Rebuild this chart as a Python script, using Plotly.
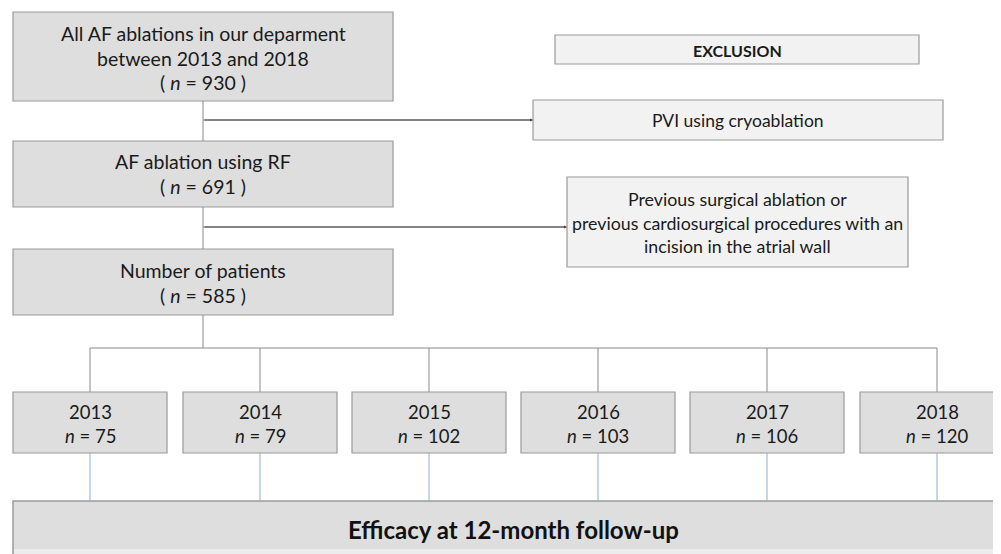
import plotly.graph_objects as go

# ---- data ----
total_label = ["All AF ablations in our deparment", "between 2013 and 2018"]
total_n = 930
rf_label = "AF ablation using RF"
rf_n = 691
patients_label = "Number of patients"
patients_n = 585
exclusion_title = "EXCLUSION"
exclusion_1 = ["PVI using cryoablation"]
exclusion_2 = ["Previous surgical ablation or",
               "previous cardiosurgical procedures with an",
               "incision in the atrial wall"]
years = ["2013", "2014", "2015", "2016", "2017", "2018"]
year_n = [75, 79, 102, 103, 106, 120]
outcome_label = "Efficacy at 12-month follow-up"

# ---- geometry (page pixels, y down) ----
W, H = 1001, 554
OFF = 8  # page body margin
FONT = "Lato"
DARK_FILL = "#dedede"
LIGHT_FILL = "#f2f2f2"
BORDER = "#9a9a9a"
LINE = "#8a8a8a"
BLUE = "#8eaadb"

main_x0, main_x1 = 13, 393
box1_y = (12, 101)
box2_y = (141, 207)
box3_y = (249, 315)
spine_x = 203
excl_title_box = (555, 919, 35, 64)
excl1_box = (533, 943, 100, 140)
excl2_box = (567, 908, 177, 267)
year_x0 = [13, 183, 352, 521, 690, 860]
year_w = [154, 154, 154, 154, 154, 154]
year_y = (392, 453)
branch_y = 348
out_y = (501, 549)

fig = go.Figure()
fig.add_trace(go.Scatter(x=[OFF, W], y=[OFF, H], mode="markers", marker=dict(opacity=0),
                         hoverinfo="skip", showlegend=False))

shapes = []
annotations = []

def rect(x0, x1, y0, y1, fill, lw=1.2):
    shapes.append(dict(type="rect", x0=x0, x1=x1, y0=y0, y1=y1, xref="x", yref="y",
                       fillcolor=fill, line=dict(color=BORDER, width=lw), layer="below"))

def line(x0, y0, x1, y1, color=LINE, w=1):
    shapes.append(dict(type="line", x0=x0, y0=y0, x1=x1, y1=y1, xref="x", yref="y",
                       line=dict(color=color, width=w)))

def arrow(x0, y0, x1, y1, color="#404040"):
    annotations.append(dict(x=x1, y=y1, ax=x0, ay=y0, xref="x", yref="y", axref="x", ayref="y",
                            text="", showarrow=True, arrowhead=2, arrowsize=0.6, arrowwidth=1,
                            arrowcolor=color, standoff=0))

def text(x, y, t, size=17, bold=False, color="#1a1a1a"):
    if bold:
        t = "<b>" + t + "</b>"
    annotations.append(dict(x=x, y=y, xref="x", yref="y", text=t, showarrow=False,
                            font=dict(family=FONT, size=size, color=color),
                            xanchor="center", yanchor="middle", align="center"))

# main boxes
rect(main_x0, main_x1, *box1_y, DARK_FILL)
rect(main_x0, main_x1, *box2_y, DARK_FILL)
rect(main_x0, main_x1, *box3_y, DARK_FILL)
cx = (main_x0 + main_x1) / 2
text(cx, 33, total_label[0], 19.5)
text(cx, 58, total_label[1], 19.5)
text(cx, 82, "( <i>n</i> = %d )" % total_n, 19.5)
text(cx, 161, rf_label, 19.5)
text(cx, 186, "( <i>n</i> = %d )" % rf_n, 19.5)
text(cx, 270, patients_label, 19.5)
text(cx, 295, "( <i>n</i> = %d )" % patients_n, 19.5)

# exclusion boxes
ex0, ex1, ey0, ey1 = excl_title_box
rect(ex0, ex1, ey0, ey1, LIGHT_FILL)
text((ex0 + ex1) / 2, (ey0 + ey1) / 2 + 0.5, exclusion_title, 16, bold=True)
ex0, ex1, ey0, ey1 = excl1_box
rect(ex0, ex1, ey0, ey1, LIGHT_FILL)
text((ex0 + ex1) / 2, (ey0 + ey1) / 2, exclusion_1[0], 17.5)
ex0, ex1, ey0, ey1 = excl2_box
rect(ex0, ex1, ey0, ey1, LIGHT_FILL)
for i, t in enumerate(exclusion_2):
    text((ex0 + ex1) / 2, 199 + i * 23.5, t, 17.8)

# spine connectors
line(spine_x, box1_y[1], spine_x, box2_y[0])
line(spine_x, 120, excl1_box[0] - 3, 120)
arrow(spine_x, 120, excl1_box[0], 120)
line(spine_x, box2_y[1], spine_x, box3_y[0])
line(spine_x, 227, excl2_box[0] - 3, 227)
arrow(spine_x, 227, excl2_box[0], 227)
line(spine_x, box3_y[1], spine_x, branch_y)

# year boxes
centers = [x0 + 77 for x0 in year_x0]
line(centers[0], branch_y, centers[-1], branch_y)
for x0, w, c, yr, n in zip(year_x0, year_w, centers, years, year_n):
    rect(x0, x0 + w, *year_y, DARK_FILL)
    line(c, branch_y, c, year_y[0])
    text(c, 412, yr, 18.5)
    text(c, 436, "<i>n</i> = %d" % n, 18.5)
    line(c, year_y[1], c, out_y[0], color=BLUE, w=1)

# outcome box
rect(13, W + 10, out_y[0], H + 10, DARK_FILL, lw=1.5)
shapes.append(dict(type="rect", x0=14, x1=W + 10, y0=out_y[1], y1=H + 10, xref="x", yref="y",
                   fillcolor="#ececec", line=dict(width=0), layer="below"))
text(513, 529, outcome_label, 24, bold=True, color="#111111")

fig.update_layout(
    width=W - OFF, height=H - OFF, margin=dict(l=0, r=0, t=0, b=0),
    paper_bgcolor="white", plot_bgcolor="white",
    xaxis=dict(range=[OFF, W], visible=False, fixedrange=True),
    yaxis=dict(range=[H, OFF], visible=False, fixedrange=True),
    shapes=shapes, annotations=annotations, showlegend=False,
)
fig.write_html("out.html")
